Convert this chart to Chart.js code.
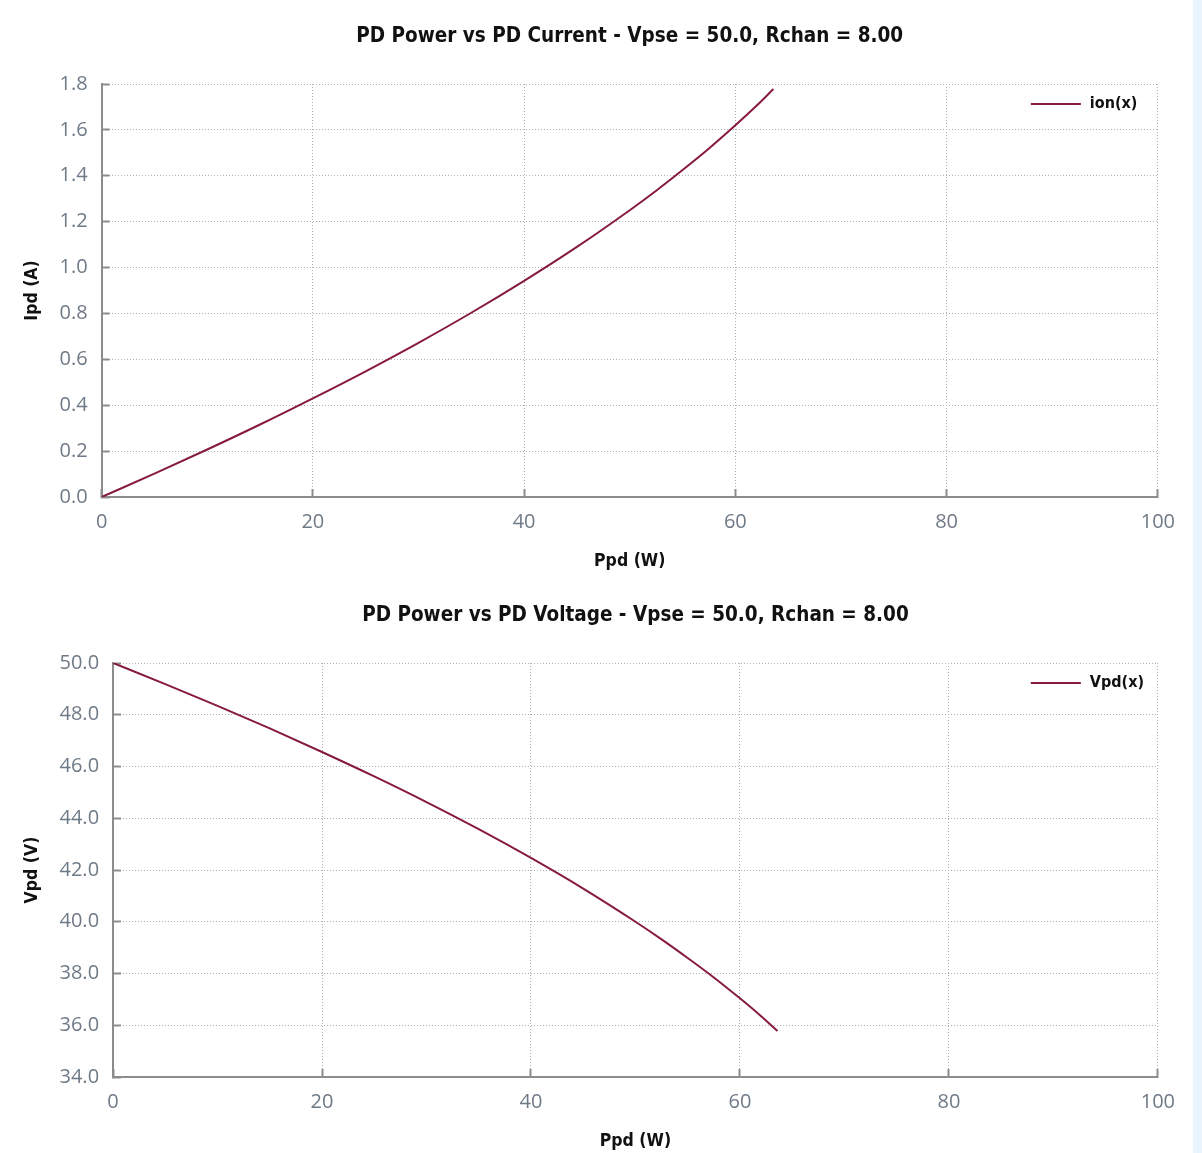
<!DOCTYPE html>
<html>
<head>
<meta charset="utf-8">
<title>PD Power charts</title>
<script src="https://cdn.jsdelivr.net/npm/chart.js@4.4.1/dist/chart.umd.min.js"></script>
<style>
    html, body { margin: 0; padding: 0; background: #ffffff; overflow: hidden; }
    .side { position: absolute; top: 0; right: 0; width: 9px; height: 1153px; background: #eaf4fc; }
    .box { position: absolute; left: 0; width: 1196px; }
    #topBox { top: 0; height: 579px; }
    #bottomBox { top: 579px; height: 574px; }
    canvas { display: block; }
</style>
</head>
<body>
<div class="side"></div>
<div class="box" id="topBox"><canvas id="currentChart" width="1196" height="579"></canvas></div>
<div class="box" id="bottomBox"><canvas id="voltageChart" width="1196" height="574"></canvas></div>
<script>
    // values
    const powerW   = [0, 5, 10, 15, 20, 25, 30, 35, 40, 45, 50, 52.5, 55, 57.5, 60, 62, 63.6];
    const currentA = [0, 0.102, 0.207, 0.316, 0.430, 0.548, 0.672, 0.803, 0.942, 1.090, 1.250, 1.335, 1.425, 1.519, 1.620, 1.705, 1.778];
    const voltageV = [50.0, 49.184, 48.344, 47.472, 46.56, 45.616, 44.624, 43.576, 42.464, 41.28, 40.0, 39.32, 38.6, 37.848, 37.04, 36.36, 35.776];

    // tick values
    const xTicks = [0, 20, 40, 60, 80, 100];
    const currentTicks = [0, 0.2, 0.4, 0.6, 0.8, 1.0, 1.2, 1.4, 1.6, 1.8];
    const voltageTicks = [34, 36, 38, 40, 42, 44, 46, 48, 50];

    const lineColor = '#861b3b';
    const axisColor = '#8c8c8c';
    const tickText = '#6f7a87';
    const narrow = "'Liberation Sans Narrow', 'DejaVu Sans Condensed', sans-serif";
    const tickFont = "'Open Sans', sans-serif";

    // legend drawn inside the plot, top right
    const innerLegend = {
        id: 'innerLegend',
        afterDraw(chart) {
            const ctx = chart.ctx;
            const area = chart.chartArea;
            const ds = chart.data.datasets[0];
            const y = area.top + 20;
            const x0 = area.right - 127;
            ctx.save();
            ctx.strokeStyle = ds.borderColor;
            ctx.lineWidth = ds.borderWidth;
            ctx.beginPath();
            ctx.moveTo(x0, y);
            ctx.lineTo(x0 + 50, y);
            ctx.stroke();
            ctx.fillStyle = '#111111';
            ctx.font = 'bold 16px ' + narrow;
            ctx.textBaseline = 'middle';
            ctx.textAlign = 'left';
            ctx.fillText(ds.label, x0 + 59, y);
            ctx.restore();
        }
    };

    function pairs(xs, ys) {
        return xs.map((x, i) => ({ x: x, y: ys[i] }));
    }

    function makeChart(id, cfg) {
        const ctx = document.getElementById(id).getContext('2d');
        return new Chart(ctx, {
            type: 'line',
            data: {
                datasets: [{
                    label: cfg.label,
                    data: pairs(powerW, cfg.values),
                    borderColor: lineColor,
                    backgroundColor: lineColor,
                    borderWidth: 2,
                    pointRadius: 0,
                    cubicInterpolationMode: 'monotone',
                    fill: false
                }]
            },
            options: {
                responsive: false,
                animation: false,
                layout: { padding: { left: 0, right: 27, top: 0, bottom: 0 } },
                plugins: {
                    title: {
                        display: true,
                        text: cfg.title,
                        fullSize: false,
                        color: '#111111',
                        font: { family: narrow, size: 20.5, weight: 'bold' },
                        padding: { top: 24.7, bottom: 34.7 }
                    },
                    legend: { display: false },
                    tooltip: { enabled: false }
                },
                scales: {
                    x: {
                        type: 'linear',
                        min: 0,
                        max: 100,
                        afterBuildTicks: (scale) => { scale.ticks = xTicks.map(v => ({ value: v })); },
                        ticks: {
                            color: tickText,
                            padding: 21,
                            font: { family: tickFont, size: 20 },
                            callback: (v) => String(v)
                        },
                        grid: {
                            color: '#b0b0b0',
                            lineWidth: 1,
                            tickLength: -8,
                            tickColor: axisColor,
                            tickWidth: 2,
                            tickBorderDash: []
                        },
                        border: { color: axisColor, width: 2, dash: [1, 2] },
                        title: {
                            display: true,
                            text: 'Ppd (W)',
                            color: '#111111',
                            font: { family: narrow, size: 17.5, weight: 'bold' },
                            padding: { top: -4.5, bottom: cfg.xTitleBottom }
                        }
                    },
                    y: {
                        type: 'linear',
                        min: cfg.ticks[0],
                        max: cfg.ticks[cfg.ticks.length - 1],
                        afterBuildTicks: (scale) => { scale.ticks = cfg.ticks.map(v => ({ value: v })); },
                        ticks: {
                            color: tickText,
                            padding: 22,
                            font: { family: tickFont, size: 20 },
                            callback: (v) => Number(v).toFixed(1)
                        },
                        grid: {
                            color: '#b0b0b0',
                            lineWidth: 1,
                            tickLength: -8,
                            tickColor: axisColor,
                            tickWidth: 2,
                            tickBorderDash: []
                        },
                        border: { color: axisColor, width: 2, dash: [1, 2] },
                        title: {
                            display: true,
                            text: cfg.yTitle,
                            color: '#111111',
                            font: { family: narrow, size: 17.5, weight: 'bold' },
                            padding: { top: 21.5, bottom: -5 }
                        }
                    }
                }
            },
            plugins: [innerLegend]
        });
    }

    document.addEventListener('DOMContentLoaded', function() {
        makeChart('currentChart', {
            label: 'ion(x)',
            values: currentA,
            ticks: currentTicks,
            title: 'PD Power vs PD Current - Vpse = 50.0, Rchan = 8.00',
            yTitle: 'Ipd (A)',
            xTitleBottom: 7.5
        });
        makeChart('voltageChart', {
            label: 'Vpd(x)',
            values: voltageV,
            ticks: voltageTicks,
            title: 'PD Power vs PD Voltage - Vpse = 50.0, Rchan = 8.00',
            yTitle: 'Vpd (V)',
            xTitleBottom: 1.5
        });
    });
</script>
</body>
</html>
